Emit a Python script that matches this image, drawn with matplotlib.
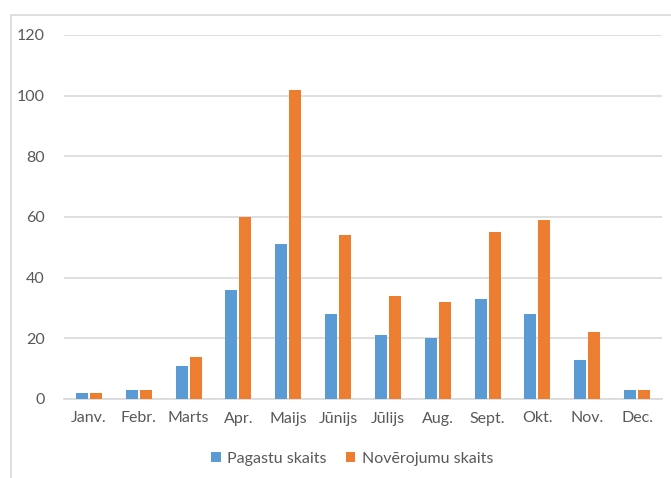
import matplotlib
matplotlib.use("Agg")
import matplotlib.pyplot as plt
import numpy as np
from matplotlib.patches import Rectangle

months = ["Janv.", "Febr.", "Marts", "Apr.", "Maijs", "Jūnijs", "Jūlijs",
          "Aug.", "Sept.", "Okt.", "Nov.", "Dec."]
pagastu = [2, 3, 11, 36, 51, 28, 21, 20, 33, 28, 13, 3]
noverojumu = [2, 3, 14, 60, 102, 54, 34, 32, 55, 59, 22, 3]
yticks = [0, 20, 40, 60, 80, 100, 120]

plt.rcParams['font.family'] = ['Lato', 'DejaVu Sans']

W, H = 671, 478
fig = plt.figure(figsize=(W/100, H/100), dpi=100)
fig.patches.append(Rectangle((11/W, -0.1), 1, 1.1 - 15/H, transform=fig.transFigure,
                             fill=False, edgecolor='#D9D9D9', linewidth=1.2))
ax = fig.add_axes([64/W, (H-399)/H, (662-64)/W, (399-35)/H])

x = np.arange(len(months))
bw = 0.24
ax.bar(x - 0.14, pagastu, bw, color='#5B9BD5', label='Pagastu skaits', zorder=3)
ax.bar(x + 0.14, noverojumu, bw, color='#ED7D31', label='Novērojumu skaits', zorder=3)

ax.set_xlim(-0.5, len(months) - 0.5)
ax.set_ylim(0, 120)
ax.set_yticks(yticks)
ax.set_xticks(x)
ax.set_xticklabels(months)
ax.grid(axis='y', color='#D9D9D9', linewidth=1.2, zorder=0)
for s in ['top', 'right', 'left']:
    ax.spines[s].set_visible(False)
ax.spines['bottom'].set_color('#D9D9D9')
ax.spines['bottom'].set_linewidth(1.2)
ax.tick_params(axis='both', length=0, colors='#595959', labelsize=11.5)
ax.tick_params(axis='y', pad=14)
ax.tick_params(axis='x', pad=9)

leg = fig.legend(loc='center', bbox_to_anchor=(352/W, (H-459)/H), ncol=2, frameon=False,
                 fontsize=11.5, handlelength=0.6, handleheight=0.6, handletextpad=0.4,
                 columnspacing=1.2)
for t in leg.get_texts():
    t.set_color('#595959')

fig.savefig('out.png', dpi=100)
